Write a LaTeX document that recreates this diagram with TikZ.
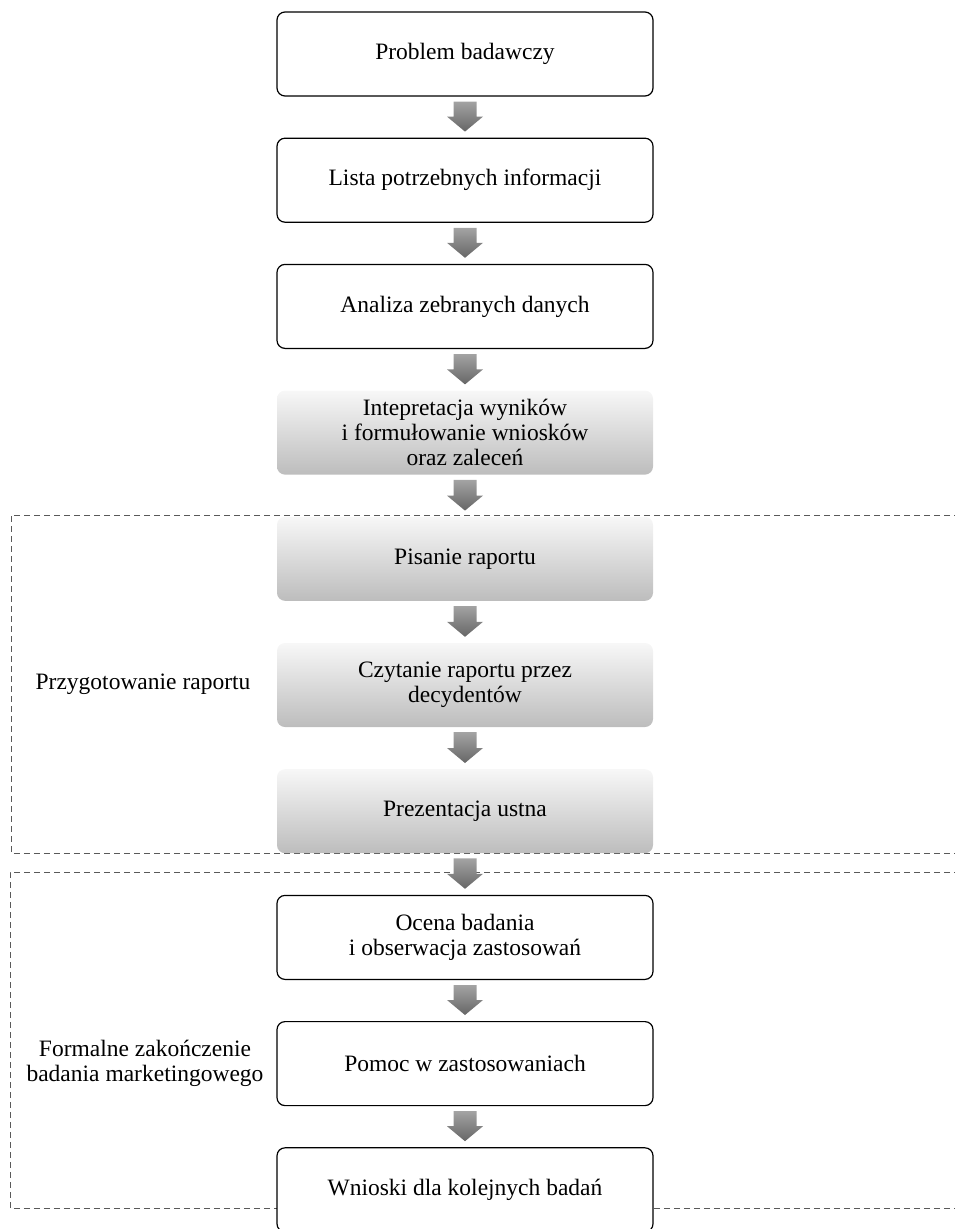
\documentclass[tikz,border=0pt]{standalone}
\usepackage{fontspec}
\setmainfont{Liberation Serif}
\usetikzlibrary{calc}

% shaded block arrow from the bottom of one step to the top of the next
\newcommand{\flowarrow}[2]{%
  \path[flowshade]
    ($(#1.south)+(-11.5,5)$) -- ($(#1.south)+(11.5,5)$) --
    ($(#2.north)+(11.5,-21)$) -- ($(#2.north)+(18,-21)$) --
    ($(#2.north)+(0,-6)$) --
    ($(#2.north)+(-18,-21)$) -- ($(#2.north)+(-11.5,-21)$) -- cycle;}

\begin{document}
\begin{tikzpicture}[x=1pt,y=-1pt,
  boxtext/.style={align=center, font=\fontsize{23.5}{25}\selectfont, inner sep=0pt,
    minimum width=376pt, minimum height=84pt},
  stepbox/.style={boxtext, draw=black, line width=1.2pt, rounded corners=8pt, fill=white},
  shadebox/.style={boxtext, rounded corners=8pt, top color=black!3, bottom color=black!26},
  grouplabel/.style={align=center, font=\fontsize{23.5}{25}\selectfont},
  groupline/.style={draw=black!65, line width=0.8pt, dash pattern=on 6pt off 4pt},
  flowshade/.style={top color=black!36, bottom color=black!60}
]
\useasboundingbox (0,0) rectangle (955,1229);
\clip (0,0) rectangle (955,1229);

% group frames (open on the right)
\draw[groupline] (960,515) -- (11,515) -- (11,853) -- (960,853);
\draw[groupline] (960,872) -- (10,872) -- (10,1208) -- (960,1208);

% group labels
\node[grouplabel] (g1) at (143,684) {Przygotowanie raportu};
\node[grouplabel] (g2) at (145,1063) {Formalne zakończenie\\badania marketingowego};

% steps
\node[stepbox]  (s1)  at (465,54)     {Problem badawczy};
\node[stepbox]  (s2)  at (465,180.2)  {Lista potrzebnych informacji};
\node[stepbox]  (s3)  at (465,306.4)  {Analiza zebranych danych};
\node[shadebox] (s4)  at (465,432.6)  {Intepretacja wyników\\i formułowanie wniosków\\oraz zaleceń};
\node[shadebox] (s5)  at (465,558.8)  {Pisanie raportu};
\node[shadebox] (s6)  at (465,685)    {Czytanie raportu przez\\decydentów};
\node[shadebox] (s7)  at (465,811.2)  {Prezentacja ustna};
\node[stepbox]  (s8)  at (465,937.4)  {Ocena badania\\i obserwacja zastosowań};
\node[stepbox]  (s9)  at (465,1063.6) {Pomoc w zastosowaniach};
\node[stepbox]  (s10) at (465,1189.8) {Wnioski dla kolejnych badań};

% connecting arrows
\flowarrow{s1}{s2}
\flowarrow{s2}{s3}
\flowarrow{s3}{s4}
\flowarrow{s4}{s5}
\flowarrow{s5}{s6}
\flowarrow{s6}{s7}
\flowarrow{s7}{s8}
\flowarrow{s8}{s9}
\flowarrow{s9}{s10}
\end{tikzpicture}
\end{document}
